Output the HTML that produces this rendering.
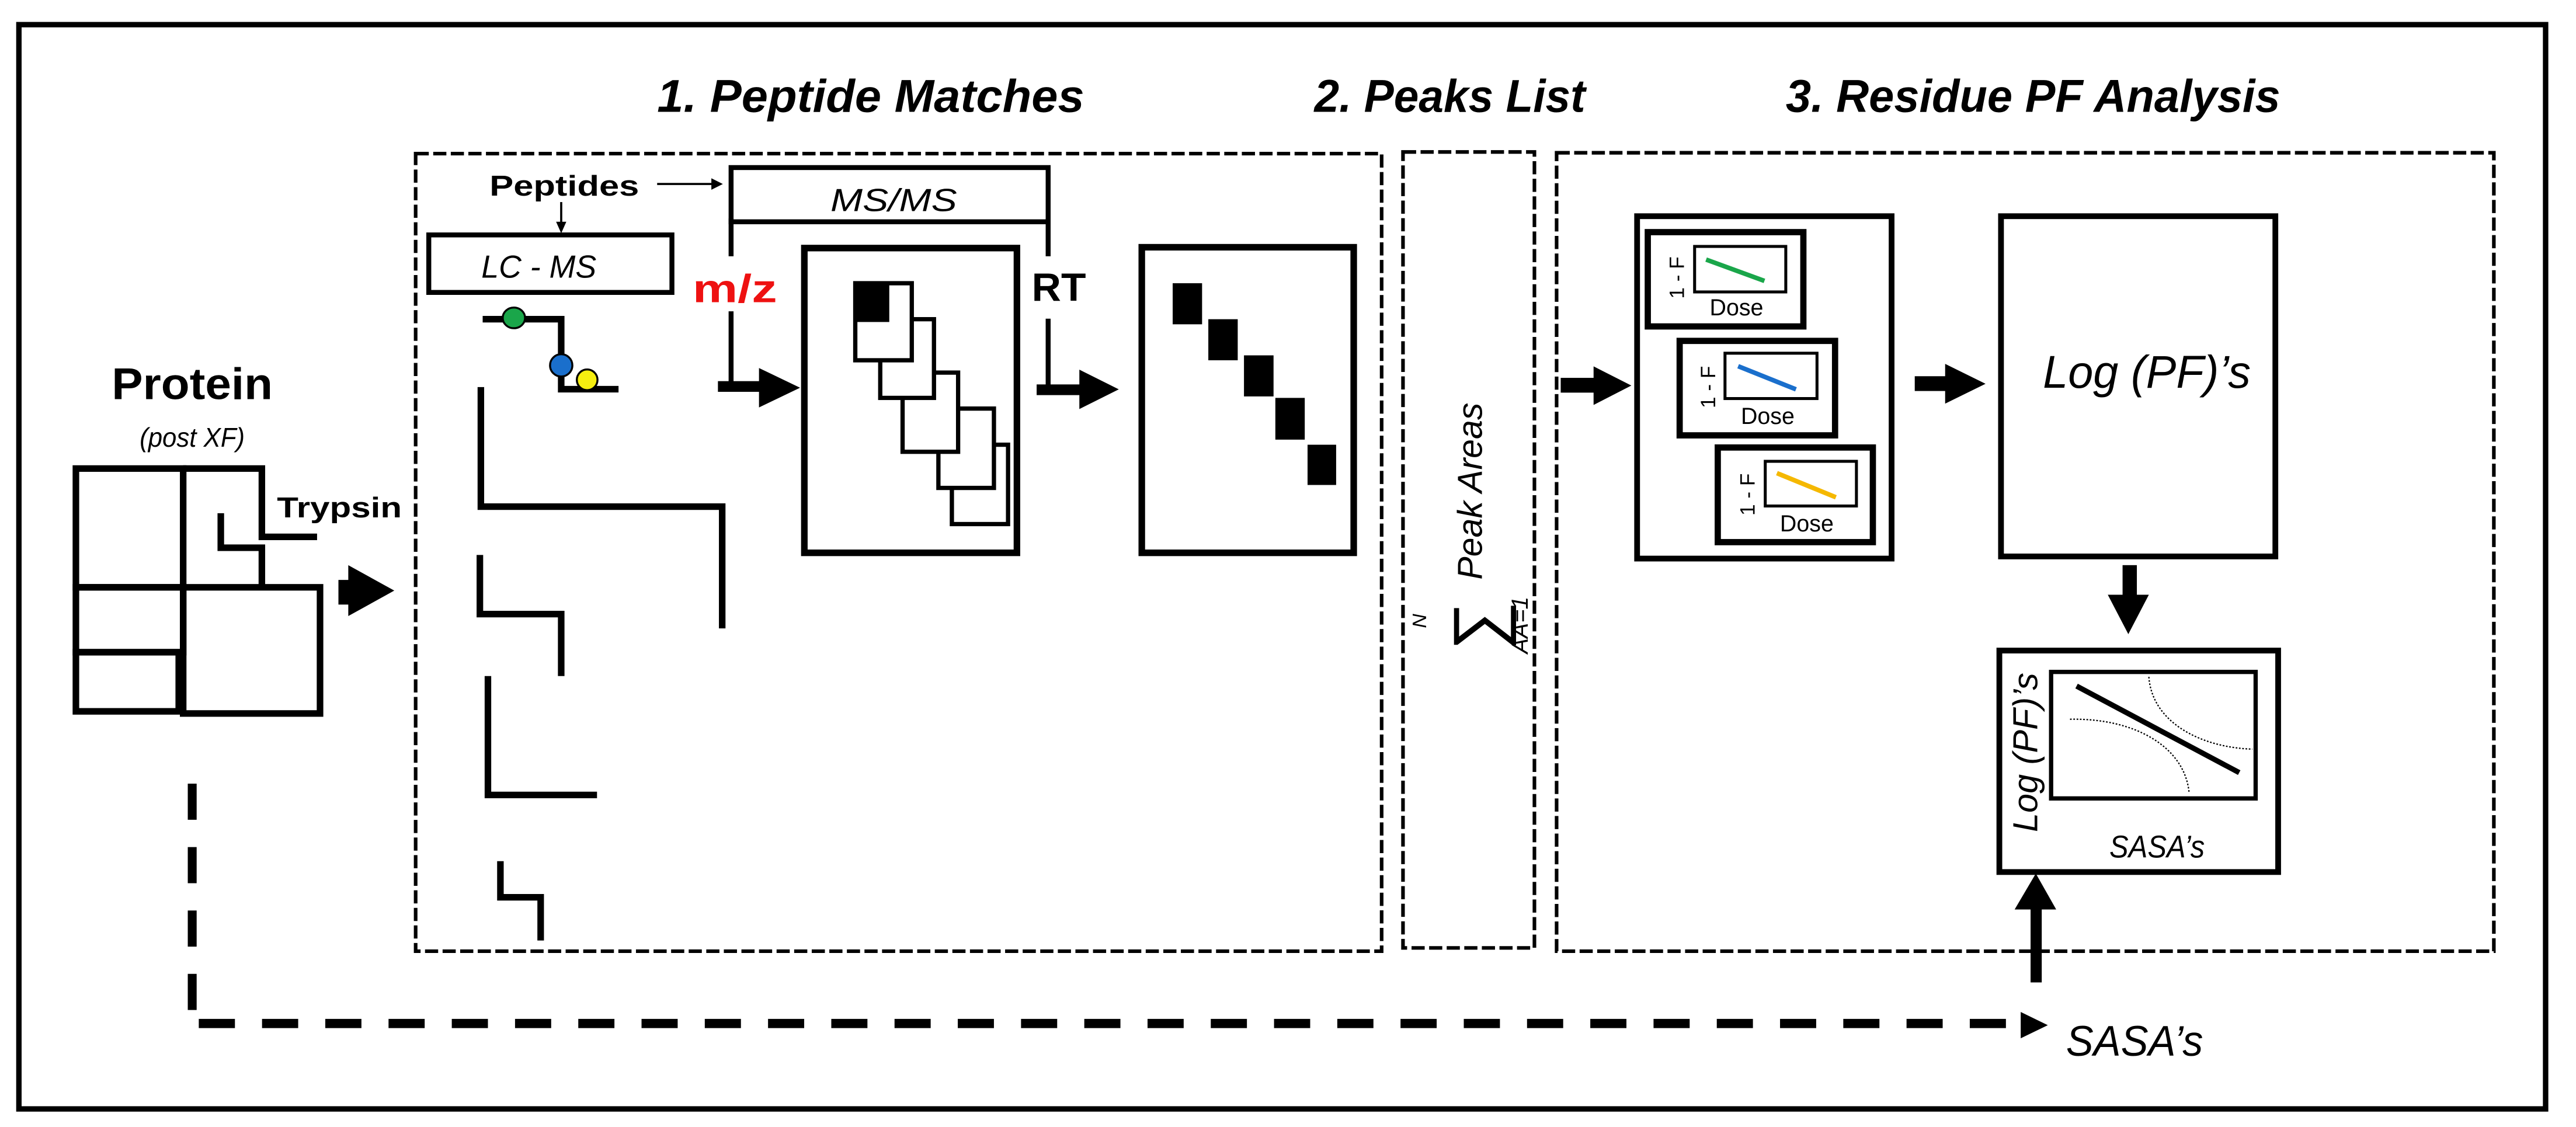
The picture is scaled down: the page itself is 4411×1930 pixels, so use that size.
<!DOCTYPE html>
<html><head><meta charset="utf-8"><style>
html,body{margin:0;padding:0;background:#fff;}
svg{display:block;}
text{font-family:"Liberation Sans",sans-serif;}
</style></head><body>
<svg width="4411" height="1930" viewBox="0 0 1568 686" preserveAspectRatio="none" xmlns="http://www.w3.org/2000/svg">
<rect x="0" y="0" width="1568" height="686" fill="#fff"/>
<rect x="11.5" y="15" width="1538" height="660" fill="none" stroke="#000" stroke-width="3.3"/>

<g font-weight="bold" font-style="italic" font-size="28">
<text x="400" y="68" textLength="260" lengthAdjust="spacingAndGlyphs">1. Peptide Matches</text>
<text x="800" y="68" textLength="165" lengthAdjust="spacingAndGlyphs">2. Peaks List</text>
<text x="1087" y="68" textLength="301" lengthAdjust="spacingAndGlyphs">3. Residue PF Analysis</text>
</g>

<g fill="none" stroke="#000" stroke-width="2.2" stroke-dasharray="8 2.7">
<rect x="253" y="93.5" width="588" height="485.5"/>
<rect x="854" y="92.5" width="80" height="484.5"/>
<rect x="947.5" y="93" width="570.5" height="486"/>
</g>

<text x="117" y="243" font-size="27" font-weight="bold" text-anchor="middle" textLength="98" lengthAdjust="spacingAndGlyphs">Protein</text>
<text x="117" y="272" font-size="16.5" font-style="italic" text-anchor="middle" textLength="64" lengthAdjust="spacingAndGlyphs">(post XF)</text>
<g fill="none" stroke="#000" stroke-width="4">
<rect x="46.2" y="285.2" width="65.3" height="72.3"/>
<path d="M111.5,285.2 H159.4 V326.8 H193"/>
<path d="M134.4,312.4 V333.4 H159.4 V357.5"/>
<rect x="111.5" y="357.5" width="83.3" height="76.8"/>
<rect x="46.2" y="357.5" width="65.3" height="39.5"/>
<rect x="46.2" y="397" width="62.6" height="36"/>
</g>
<text x="168.6" y="315" font-size="17.5" font-weight="bold" textLength="76" lengthAdjust="spacingAndGlyphs">Trypsin</text>
<rect x="206" y="353" width="7" height="15" fill="#000"/>
<polygon points="212,344 240,359.5 212,375" fill="#000"/>

<text x="298" y="119" font-size="17.5" font-weight="bold" textLength="91" lengthAdjust="spacingAndGlyphs">Peptides</text>
<line x1="400" y1="112" x2="434" y2="112" stroke="#000" stroke-width="1.3"/>
<polygon points="433,108.5 440,112 433,115.5" fill="#000"/>
<line x1="341.6" y1="123" x2="341.6" y2="136" stroke="#000" stroke-width="1.3"/>
<polygon points="338.5,135 341.6,142 344.7,135" fill="#000"/>
<rect x="261" y="143" width="148" height="35" fill="none" stroke="#000" stroke-width="3"/>
<text x="328" y="169" font-size="19.5" font-style="italic" text-anchor="middle" textLength="70" lengthAdjust="spacingAndGlyphs">LC - MS</text>
<rect x="445" y="102" width="193" height="33" fill="none" stroke="#000" stroke-width="3"/>
<text x="544" y="128.5" font-size="19.5" font-style="italic" text-anchor="middle" textLength="77" lengthAdjust="spacingAndGlyphs">MS/MS</text>
<g fill="none" stroke="#000" stroke-width="3">
<line x1="445" y1="133" x2="445" y2="156"/>
<line x1="638" y1="133" x2="638" y2="156"/>
<line x1="445" y1="189.5" x2="445" y2="235"/>
<line x1="638" y1="194" x2="638" y2="237"/>
</g>
<text x="421.6" y="184" font-size="24" font-weight="bold" fill="#ee1111" textLength="51.4" lengthAdjust="spacingAndGlyphs">m/z</text>
<text x="628" y="183" font-size="24" font-weight="bold" textLength="33" lengthAdjust="spacingAndGlyphs">RT</text>
<rect x="437" y="232" width="26" height="6.5" fill="#000"/>
<polygon points="462,224 487,236 462,248" fill="#000"/>
<rect x="631" y="234" width="27" height="6.5" fill="#000"/>
<polygon points="657,225 681,237 657,249" fill="#000"/>

<rect x="489.6" y="151" width="129.4" height="185.5" fill="none" stroke="#000" stroke-width="4"/>
<g fill="#fff" stroke="#000" stroke-width="2.6">
<rect x="579.4" y="270.7" width="34.2" height="48.3"/>
<rect x="571.2" y="248.7" width="33.8" height="48.3"/>
<rect x="549.4" y="226.8" width="33.8" height="48.2"/>
<rect x="535.8" y="194.3" width="32.7" height="47.9"/>
<rect x="520.6" y="172.4" width="34.4" height="46.9"/>
</g>
<rect x="520.6" y="172.4" width="20.7" height="23.6" fill="#000"/>

<rect x="695" y="150.5" width="129" height="186" fill="none" stroke="#000" stroke-width="4"/>
<g fill="#000">
<rect x="713.8" y="172.4" width="17.9" height="25"/>
<rect x="735.5" y="194.3" width="17.9" height="25"/>
<rect x="757.2" y="216.3" width="18" height="25"/>
<rect x="776.3" y="242.2" width="17.9" height="25.4"/>
<rect x="795.9" y="270.7" width="17.4" height="24.5"/>
</g>

<g fill="none" stroke="#000" stroke-width="4">
<path d="M293.8,194.3 H341.6 V236.9 H376.5"/>
<path d="M292.7,235.6 V308.4 H439.6 V382.5"/>
<path d="M292.1,337.8 V373.8 H341.6 V411.5"/>
<path d="M297,411.5 V483.9 H363.4"/>
<path d="M304.6,524.2 V546.2 H329.1 V572.5"/>
</g>
<g stroke="#000" stroke-width="1.2">
<ellipse cx="312.8" cy="193.5" rx="6.8" ry="6.3" fill="#1aa64a"/>
<ellipse cx="341.6" cy="222.4" rx="6.8" ry="6.8" fill="#1a6fcc"/>
<ellipse cx="357.4" cy="231.2" rx="6.3" ry="6.3" fill="#f5ee10"/>
</g>

<text transform="translate(902,299) rotate(-90)" font-family="Liberation Serif,serif" font-style="italic" font-size="21" text-anchor="middle">Peak Areas</text>
<text transform="translate(914,381) rotate(-90)" font-family="Liberation Serif,serif" font-size="42" text-anchor="middle">∑</text>
<text transform="translate(868,378) rotate(-90)" font-family="Liberation Serif,serif" font-style="italic" font-size="12" text-anchor="middle">N</text>
<text transform="translate(930,380.5) rotate(-90)" font-family="Liberation Serif,serif" font-style="italic" font-size="14" text-anchor="middle">AA=1</text>

<rect x="950" y="230" width="21" height="9" fill="#000"/>
<polygon points="970,223 993,234.7 970,246.5" fill="#000"/>
<rect x="996.5" y="131.6" width="154.9" height="208.4" fill="none" stroke="#000" stroke-width="3.5"/>
<g fill="none" stroke="#000">
<rect x="1003" y="141.3" width="94.7" height="57.4" stroke-width="3.8"/>
<rect x="1031.5" y="150" width="55.5" height="27.7" stroke-width="1.8"/>
<rect x="1022.4" y="207.5" width="94.6" height="57.5" stroke-width="3.8"/>
<rect x="1050" y="215" width="56" height="27.6" stroke-width="1.8"/>
<rect x="1045.6" y="272.4" width="94.4" height="57.6" stroke-width="3.8"/>
<rect x="1074.5" y="280.8" width="55.5" height="27.2" stroke-width="1.8"/>
</g>
<line x1="1038.5" y1="158" x2="1074" y2="171" stroke="#1aa64a" stroke-width="2.8"/>
<line x1="1058" y1="222.9" x2="1093.2" y2="237" stroke="#1a6fcc" stroke-width="2.8"/>
<line x1="1081.6" y1="288" x2="1117.5" y2="302.7" stroke="#f5b800" stroke-width="2.8"/>
<g font-size="14">
<text x="1057" y="192" text-anchor="middle">Dose</text>
<text x="1076" y="258" text-anchor="middle">Dose</text>
<text x="1099.8" y="323.5" text-anchor="middle">Dose</text>
<text transform="translate(1025,169) rotate(-90)" text-anchor="middle" font-size="12.5">1 - F</text>
<text transform="translate(1044,235.6) rotate(-90)" text-anchor="middle" font-size="12.5">1 - F</text>
<text transform="translate(1068,301) rotate(-90)" text-anchor="middle" font-size="12.5">1 - F</text>
</g>
<rect x="1165.5" y="229" width="19" height="9" fill="#000"/>
<polygon points="1184,221.5 1208.6,233.6 1184,245.7" fill="#000"/>
<rect x="1218" y="131.6" width="167" height="207.1" fill="none" stroke="#000" stroke-width="3.5"/>
<text x="1243.5" y="236" font-size="28" font-style="italic" textLength="126.5" lengthAdjust="spacingAndGlyphs">Log (PF)’s</text>
<rect x="1292" y="344" width="8.7" height="20" fill="#000"/>
<polygon points="1283,362 1308,362 1295.5,386" fill="#000"/>
<rect x="1217" y="396" width="169.7" height="134.8" fill="none" stroke="#000" stroke-width="3.5"/>
<rect x="1248.5" y="409" width="124.5" height="77" fill="none" stroke="#000" stroke-width="2.6"/>
<line x1="1264" y1="417.6" x2="1363" y2="470.3" stroke="#000" stroke-width="3.2"/>
<g fill="none" stroke="#000" stroke-width="0.8" stroke-dasharray="1 1">
<path d="M1260,437.8 C1300,437 1330,455 1332.5,482.6"/>
<path d="M1308,412 C1310,440 1340,455 1371,456"/>
</g>
<text transform="translate(1240,458) rotate(-90)" font-size="21" font-style="italic" text-anchor="middle" textLength="97" lengthAdjust="spacingAndGlyphs">Log (PF)’s</text>
<text x="1313" y="522" font-size="19" font-style="italic" text-anchor="middle" textLength="58" lengthAdjust="spacingAndGlyphs">SASA’s</text>
<rect x="1236" y="551" width="6.8" height="47" fill="#000"/>
<polygon points="1226.3,553.6 1239.2,531.7 1251.6,553.6" fill="#000"/>

<line x1="117" y1="477" x2="117" y2="620" stroke="#000" stroke-width="5.4" stroke-dasharray="22 16.6"/>
<line x1="121" y1="623" x2="1232" y2="623" stroke="#000" stroke-width="5.6" stroke-dasharray="22 16.5"/>
<polygon points="1230,616 1246.5,624 1230,632" fill="#000"/>
<text x="1257.6" y="642.7" font-size="26" font-style="italic" textLength="83.4" lengthAdjust="spacingAndGlyphs">SASA’s</text>
</svg>
</body></html>
